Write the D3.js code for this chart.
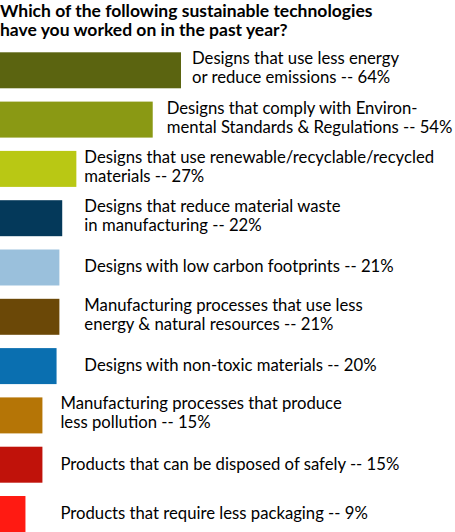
<!DOCTYPE html>
<html>
<head>
<meta charset="utf-8">
<script src="https://cdn.jsdelivr.net/npm/d3@7"></script>
<style>
  html, body { margin: 0; padding: 0; background: #fff; }
  #graph { width: 455px; height: 532px; overflow: hidden; }
  text { font-family: Lato, "Liberation Sans", sans-serif; fill: #000; }
  .title { font-weight: bold; font-size: 17.5px; }
  .label { font-size: 16.7px; }
</style>
</head>
<body>
<div id="graph"></div>
<script>
"use strict"

var titleLines = ["Which of the following sustainable technologies", "have you worked on in the past year?"]

// each category is split the way the label wraps; the percentage goes on the last line
var categories = [
    ["Designs that use less energy", "or reduce emissions"],
    ["Designs that comply with Environ-", "mental Standards & Regulations"],
    ["Designs that use renewable/recyclable/recycled", "materials"],
    ["Designs that reduce material waste", "in manufacturing"],
    ["Designs with low carbon footprints"],
    ["Manufacturing processes that use less", "energy & natural resources"],
    ["Designs with non-toxic materials"],
    ["Manufacturing processes that produce", "less pollution"],
    ["Products that can be disposed of safely"],
    ["Products that require less packaging"]
]
var values = [64, 54, 27, 22, 21, 21, 20, 15, 15, 9]
var colors = ["#5b6410", "#8a9914", "#b9c814", "#04395a", "#9ac0dc", "#6b4807", "#0a6fb0", "#b57506", "#c0120a", "#ff1a12"]

var width = 455, height = 532

main()

function main() {
    let svg = d3.select("#graph").append("svg")
        .attr("width", width).attr("height", height)

    let x = d3.scaleLinear().domain([0, 64]).range([0, 181])
    let y = d3.scaleBand()
        .domain(d3.range(values.length))
        .range([52.3, 532])
        .paddingInner(0.27)
        .paddingOuter(0)

    svg.append("g").selectAll("text")
        .data(titleLines)
        .enter().append("text")
        .attr("class", "title")
        .attr("x", 0)
        .attr("y", function(d, i) { return 16.5 + i * 19.5 })
        .text(function(d) { return d })

    svg.append("g").selectAll("rect")
        .data(values)
        .enter().append("rect")
        .attr("x", x(0))
        .attr("y", function(d, i) { return y(i) })
        .attr("width", function(d) { return x(d) - x(0) })
        .attr("height", y.bandwidth())
        .style("fill", function(d, i) { return colors[i] })

    // the two long bars carry their label at the bar end, the others sit in two columns
    function labelX(i) {
        if (i == 0) return x(values[0]) + 11
        if (i == 1) return x(values[1]) + 14
        if (i < 7) return x(values[2]) + 8
        return x(values[7]) + 18
    }

    let label = svg.append("g").selectAll("text")
        .data(categories)
        .enter().append("text")
        .attr("class", "label")
        .attr("transform", function(d, i) {
            let mid = y(i) + y.bandwidth() / 2
            let base = d.length > 1 ? mid - 6 : mid + 5
            return "translate(" + labelX(i) + "," + base + ")"
        })

    label.selectAll("tspan")
        .data(function(d, i) {
            return d.map(function(line, j) {
                return j == d.length - 1 ? line + " -- " + values[i] + "%" : line
            })
        })
        .enter().append("tspan")
        .attr("x", 0)
        .attr("y", function(d, j) { return j * 19 })
        .text(function(d) { return d })
}
</script>
</body>
</html>
